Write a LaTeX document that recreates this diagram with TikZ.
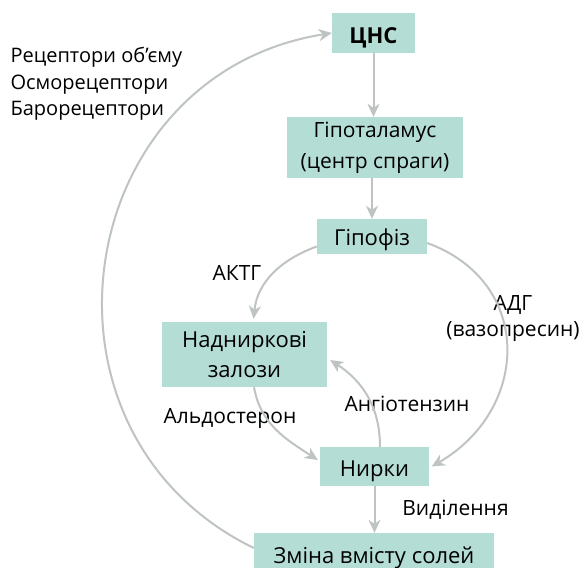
\documentclass[tikz,border=0pt]{standalone}
\usepackage{fontspec}
\setmainfont{Open Sans}
\usetikzlibrary{arrows.meta}
\definecolor{mint}{HTML}{B4DDD5}
\definecolor{arrgray}{HTML}{BEC3C3}

\begin{document}
\begin{tikzpicture}[x=1pt, y=1pt, every node/.style={font=\fontsize{21}{26}\selectfont},
  box/.style={fill=mint, align=center, inner sep=0pt, text height=20pt, text depth=0pt, font=\fontsize{22}{30}\selectfont},
  arr/.style={draw=arrgray, line width=2pt, -{Stealth[length=13pt, width=12pt, inset=4pt]}}]
  \useasboundingbox (0,0) rectangle (582,-568);
  % boxes of the middle column, from top to bottom
  \node[box, minimum width=83pt, minimum height=40pt, font=\fontsize{22}{30}\selectfont\bfseries] (cns) at (373.5,-33) {ЦНС};
  \node[box, minimum width=176pt, minimum height=61pt, text height=, text depth=, font=\fontsize{21}{31}\selectfont] (hypot) at (375,-147.5) {Гіпоталамус\\(центр спраги)};
  \node[box, minimum width=110pt, minimum height=35pt, text height=17pt] (hypof) at (372,-236.5) {Гіпофіз};
  \node[box, minimum width=165pt, minimum height=65pt, text height=, text depth=] (nadn) at (244.5,-354.5) {Надниркові\\залози};
  \node[box, minimum width=109pt, minimum height=39pt] (nyrky) at (374.5,-466.5) {Нирки};
  \node[box, minimum width=240pt, minimum height=40pt] (zmina) at (374,-553) {Зміна вмісту солей};
  % labels
  \node[anchor=base west, align=left, font=\fontsize{20}{26.5}\selectfont] (recept) at (7,-115.7) {Рецептори об’єму\\Осморецептори\\Барорецептори};
  \node[anchor=base] (aktg) at (237,-280) {АКТГ};
  \node[anchor=base, align=center] (adg) at (513,-336) {АДГ\\(вазопресин)};
  \node[anchor=base] (aldo) at (230,-423.3) {Альдостерон};
  \node[anchor=base] (angio) at (407,-411.7) {Ангіотензин};
  \node[anchor=base] (vydil) at (455.5,-515) {Виділення};
  % connectors
  \draw[arr] (cns.south) -- (cns.south |- hypot.north);
  \draw[arr] (hypof.north |- hypot.south) -- (hypof.north);
  \draw[arr] ([yshift=-10pt]hypof.west) to[out=200, in=84] ([xshift=9pt,yshift=3pt]nadn.north);
  \draw[arr] ([yshift=-6.5pt]hypof.east) to[out=-20, in=30, looseness=1.3] ([xshift=2.5pt]nyrky.east);
  \draw[arr] ([xshift=9.5pt]nadn.south) to[out=-80, in=147] ([xshift=-2pt,yshift=6.5pt]nyrky.west);
  \draw[arr] ([xshift=5.5pt]nyrky.north) to[out=90, in=-33] ([xshift=3pt,yshift=-5.5pt]nadn.east);
  \draw[arr] (nyrky.south) -- (nyrky.south |- zmina.north);
  \draw[arr] ([yshift=5pt]zmina.west) to[out=154, in=189, looseness=1.3] (cns.west);
\end{tikzpicture}
\end{document}
